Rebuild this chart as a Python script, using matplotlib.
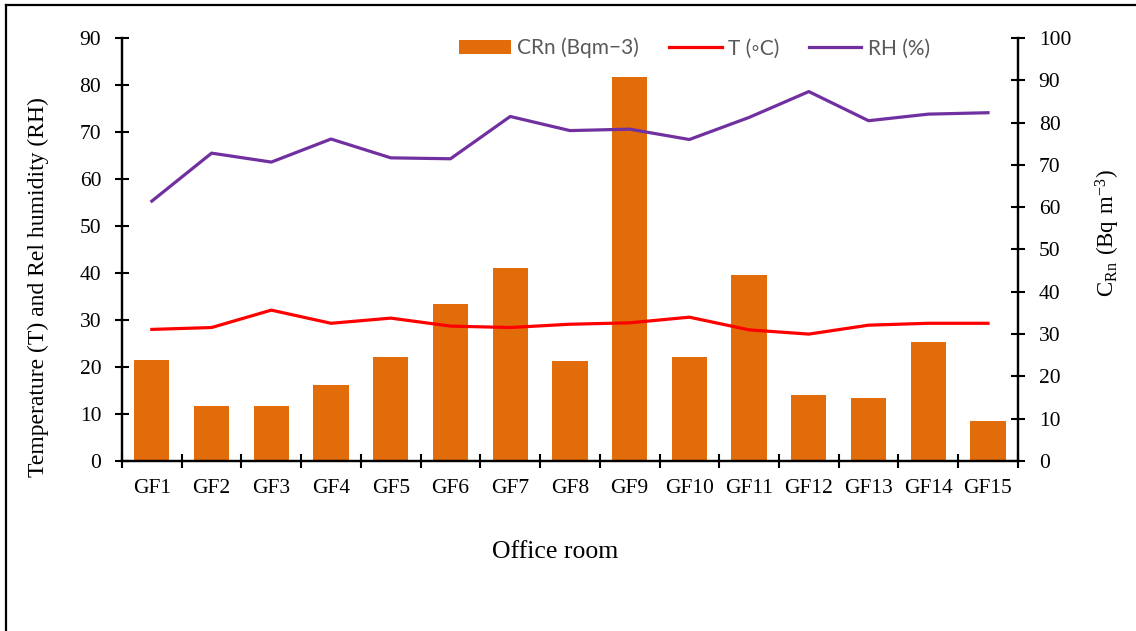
import matplotlib.pyplot as plt
import numpy as np
from matplotlib.lines import Line2D

# ---- dados ----
salas = ["GF1", "GF2", "GF3", "GF4", "GF5", "GF6", "GF7", "GF8",
         "GF9", "GF10", "GF11", "GF12", "GF13", "GF14", "GF15"]
crn = [23.9, 13.0, 13.0, 18.0, 24.6, 37.0, 45.6, 23.6,
       90.7, 24.5, 44.0, 15.5, 14.9, 28.1, 9.5]
temp = [28.0, 28.4, 32.1, 29.3, 30.4, 28.7, 28.4, 29.1,
        29.4, 30.6, 27.9, 27.0, 28.9, 29.3, 29.3]
rh = [55.3, 65.5, 63.6, 68.5, 64.5, 64.3, 73.3, 70.3,
      70.6, 68.4, 73.1, 78.6, 72.4, 73.8, 74.1]

plt.rcParams["font.family"] = ["Liberation Serif", "DejaVu Serif"]
plt.rcParams["mathtext.fontset"] = "custom"
plt.rcParams["mathtext.rm"] = "Liberation Serif"

fig = plt.figure(figsize=(11.36, 6.31), dpi=100)
ax1 = fig.add_axes([0.1074, 0.2694, 0.7886, 0.6704])
ax2 = ax1.twinx()

x = np.arange(len(salas))

# barras no eixo da direita, linhas por cima
ax1.set_zorder(ax2.get_zorder() + 1)
ax1.patch.set_visible(False)

barras = ax2.bar(x, crn, width=0.59, color="#E36C0A", label="CRn (Bqm\u22123)")
l_t, = ax1.plot(x, temp, color="#FF0000", lw=2.3, label="T (\u25e6C)")
l_rh, = ax1.plot(x, rh, color="#7030A0", lw=2.3, label="RH (%)")

ax1.set_xlim(-0.5, len(salas) - 0.5)
ax1.set_ylim(0, 90)
ax2.set_ylim(0, 100)
ax1.set_yticks(range(0, 91, 10))
ax2.set_yticks(range(0, 101, 10))

ax1.set_xticks(x)
ax1.set_xticklabels(salas, fontsize=15.5)
ax1.set_xticks(np.arange(-0.5, len(salas), 1), minor=True)
ax1.tick_params(axis="x", which="major", length=0, pad=13)
ax1.tick_params(axis="x", which="minor", direction="inout", length=10, width=1.5)
ax1.tick_params(axis="y", direction="inout", length=10, width=1.5, labelsize=15.5, pad=10)
ax2.tick_params(axis="y", direction="inout", length=10, width=1.5, labelsize=15.5, pad=10)

for ax in (ax1, ax2):
    ax.spines["top"].set_visible(False)
    for s in ("left", "right", "bottom"):
        ax.spines[s].set_linewidth(1.6)

ax1.set_xlabel("Office room", fontsize=18.5)
ax1.xaxis.set_label_coords(0.483, -0.19)
ax1.set_ylabel("Temperature (T) and Rel humidity (RH)", fontsize=17)
ax1.yaxis.set_label_coords(-0.081, 0.411)
ax2.set_ylabel(r"$\mathregular{C_{Rn}\ (Bq\ m^{-3})}$", fontsize=16.5)
ax2.yaxis.set_label_coords(1.085, 0.539)

leg = ax1.legend(handles=[barras, l_t, l_rh], loc="center",
                 bbox_to_anchor=(0.639, 0.976), ncol=3, frameon=False,
                 prop={"family": ["Lato", "DejaVu Sans"], "size": 15},
                 handlelength=2.5, columnspacing=1.45, handletextpad=0.3)
for t in leg.get_texts():
    t.set_color("#595959")

# moldura da figura
x0 = 6 / 1136
y0 = 1 - 5 / 631
fig.add_artist(Line2D([x0, x0], [0, y0], color="black", lw=1.6))
fig.add_artist(Line2D([x0, 1], [y0, y0], color="black", lw=1.6))

fig.savefig("out.png", dpi=100)
